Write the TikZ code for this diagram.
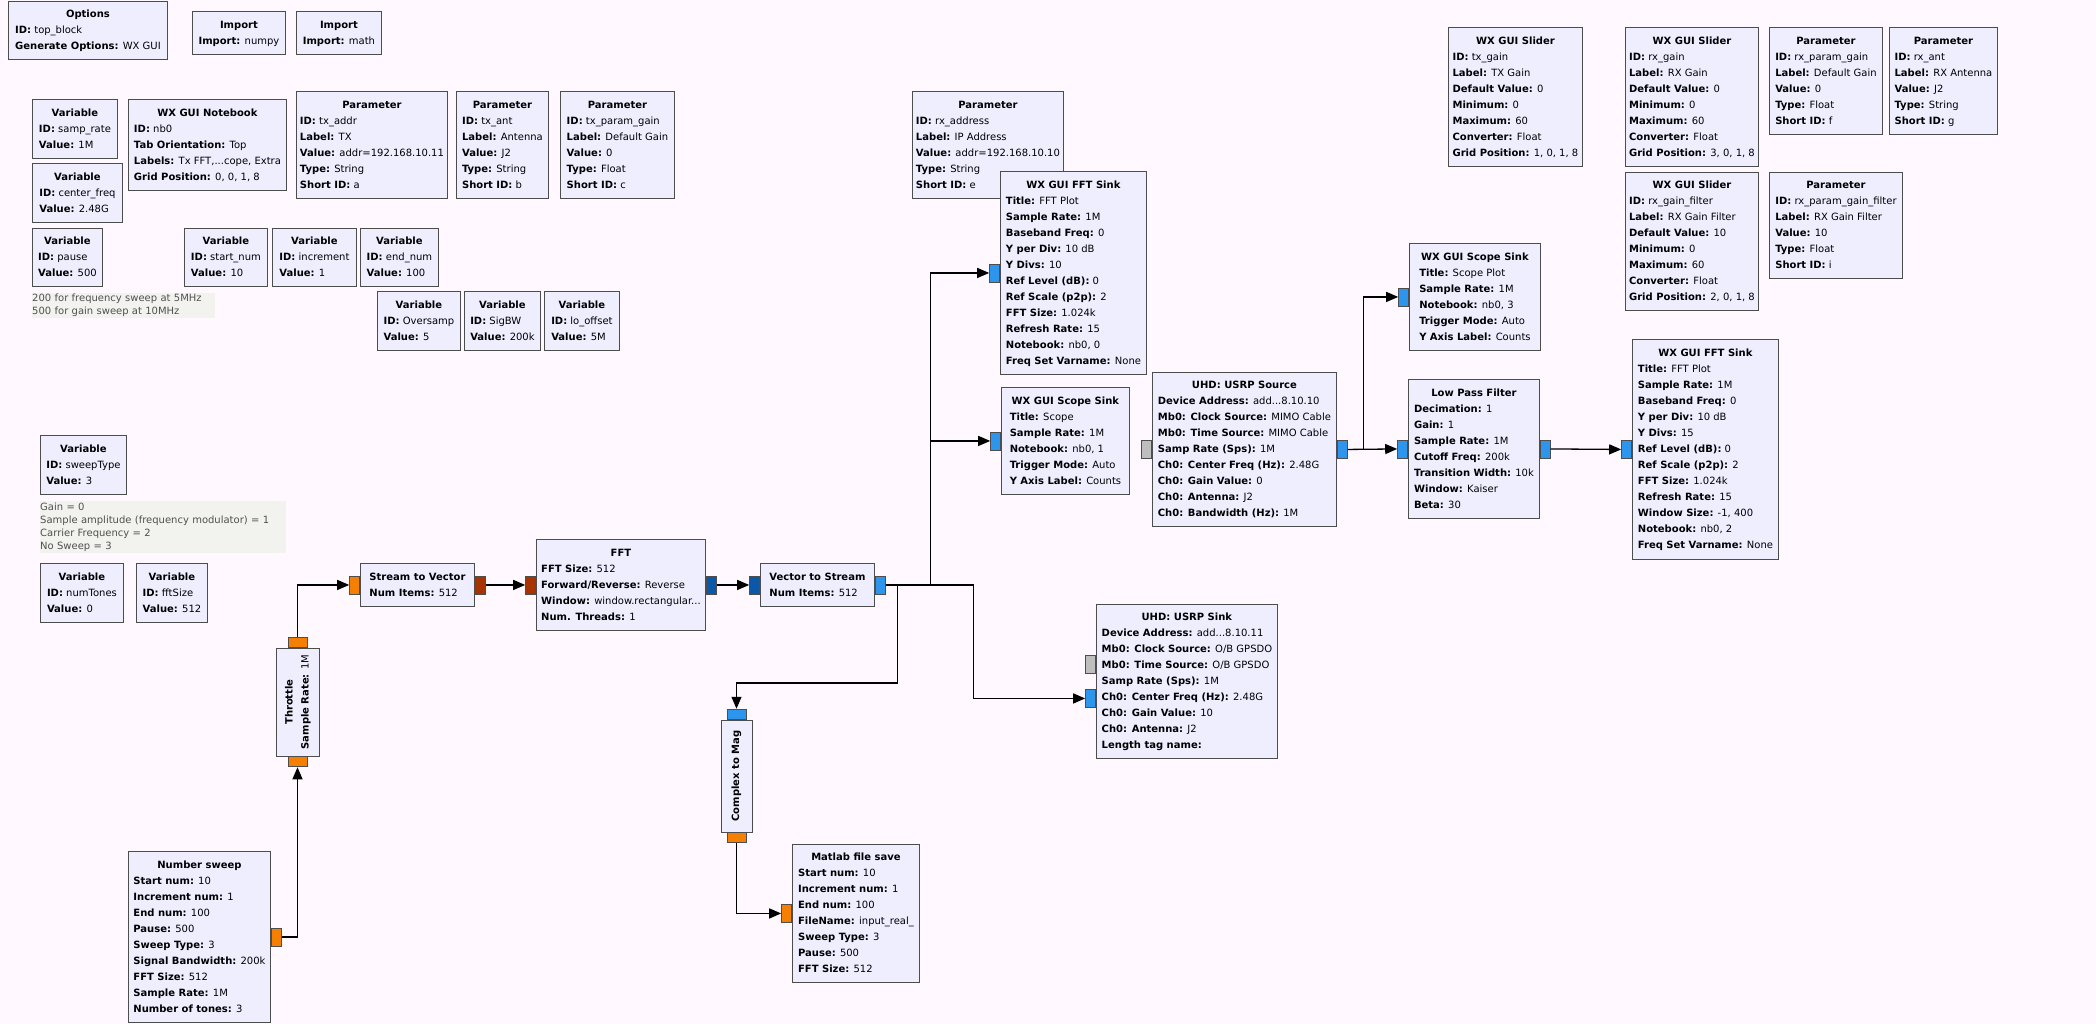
\documentclass[tikz,border=0pt]{standalone}
\usepackage{fontspec}
\setmainfont{DejaVu Sans}
\usepackage{tikz}
\usetikzlibrary{positioning,arrows.meta}

\definecolor{bgc}{HTML}{FFF9FF}
\definecolor{blkc}{HTML}{EFEEFF}
\definecolor{bordc}{HTML}{4D4D4D}
\definecolor{cmtc}{HTML}{F2F2EF}
\definecolor{cmtt}{HTML}{505050}
\definecolor{fltc}{HTML}{F57F00}
\definecolor{fvecc}{HTML}{A63300}
\definecolor{cplxc}{HTML}{2D96EC}
\definecolor{cvecc}{HTML}{0B57A8}
\definecolor{msgc}{HTML}{BEBEBE}

\newcommand{\grfont}{\fontsize{10}{16}\selectfont}
\newcommand{\cmtfont}{\fontsize{10}{13}\selectfont}
\newcommand{\gb}[1]{\begin{tabular}{@{}l@{}}#1\end{tabular}}
\newcommand{\ttl}[1]{\hfill\textbf{#1}\hfill\null}
\newcommand{\kv}[2]{\textbf{#1:} #2}

\begin{document}
\begin{tikzpicture}[
x=1pt, y=-1pt,
blk/.style={draw=bordc, fill=blkc, line width=0.9pt, anchor=north west, inner sep=0pt, font=\grfont},
wh/.style 2 args={minimum width=#1, minimum height=#2},
port/.style={draw=bordc, line width=0.8pt, minimum width=10, minimum height=18, inner sep=0pt},
vport/.style={port, minimum width=19, minimum height=10},
cmt/.style={fill=cmtc, anchor=north west, inner sep=0pt, align=left, font=\cmtfont, text=cmtt},
conn/.style={-{Triangle[length=12pt,width=10pt]}, line width=1.3pt}
]
\fill[bgc] (0,0) rectangle (2096,1024);

\node[blk, wh={159}{58}] (opts) at (8,1) {\gb{\ttl{Options}\\ \kv{ID}{top\_block}\\ \kv{Generate Options}{WX GUI}}};
\node[blk, wh={93}{43}] (impnp) at (192,11) {\gb{\ttl{Import}\\ \kv{Import}{numpy}}};
\node[blk, wh={85}{43}] (impmath) at (296,11) {\gb{\ttl{Import}\\ \kv{Import}{math}}};
\node[blk, wh={85}{59}] (sr) at (32,99) {\gb{\ttl{Variable}\\ \kv{ID}{samp\_rate}\\ \kv{Value}{1M}}};
\node[blk, wh={158}{91}] (nb) at (128,99) {\gb{\ttl{WX GUI Notebook}\\ \kv{ID}{nb0}\\ \kv{Tab Orientation}{Top}\\ \kv{Labels}{Tx FFT,...cope, Extra}\\ \kv{Grid Position}{0, 0, 1, 8}}};
\node[blk, wh={151}{107}] (txaddr) at (296,91) {\gb{\ttl{Parameter}\\ \kv{ID}{tx\_addr}\\ \kv{Label}{TX}\\ \kv{Value}{addr=192.168.10.11}\\ \kv{Type}{String}\\ \kv{Short ID}{a}}};
\node[blk, wh={92}{107}] (txant) at (456,91) {\gb{\ttl{Parameter}\\ \kv{ID}{tx\_ant}\\ \kv{Label}{Antenna}\\ \kv{Value}{J2}\\ \kv{Type}{String}\\ \kv{Short ID}{b}}};
\node[blk, wh={114}{107}] (txpg) at (560,91) {\gb{\ttl{Parameter}\\ \kv{ID}{tx\_param\_gain}\\ \kv{Label}{Default Gain}\\ \kv{Value}{0}\\ \kv{Type}{Float}\\ \kv{Short ID}{c}}};
\node[blk, wh={90}{59}] (cf) at (32,163) {\gb{\ttl{Variable}\\ \kv{ID}{center\_freq}\\ \kv{Value}{2.48G}}};
\node[blk, wh={70}{58}] (pause) at (32,228) {\gb{\ttl{Variable}\\ \kv{ID}{pause}\\ \kv{Value}{500}}};
\node[blk, wh={83}{58}] (startn) at (184,228) {\gb{\ttl{Variable}\\ \kv{ID}{start\_num}\\ \kv{Value}{10}}};
\node[blk, wh={84}{58}] (incr) at (272,228) {\gb{\ttl{Variable}\\ \kv{ID}{increment}\\ \kv{Value}{1}}};
\node[blk, wh={78}{58}] (endn) at (360,228) {\gb{\ttl{Variable}\\ \kv{ID}{end\_num}\\ \kv{Value}{100}}};
\node[blk, wh={83}{59}] (ovs) at (377,291) {\gb{\ttl{Variable}\\ \kv{ID}{Oversamp}\\ \kv{Value}{5}}};
\node[blk, wh={76}{59}] (sigbw) at (464,291) {\gb{\ttl{Variable}\\ \kv{ID}{SigBW}\\ \kv{Value}{200k}}};
\node[blk, wh={75}{59}] (lo) at (544,291) {\gb{\ttl{Variable}\\ \kv{ID}{lo\_offset}\\ \kv{Value}{5M}}};
\node[cmt, text width=183pt, minimum height=25] (cmtpause) at (32,293) {200 for frequency sweep at 5MHz\\500 for gain sweep at 10MHz};

\node[blk, wh={151}{107}] (rxaddr) at (912,91) {\gb{\ttl{Parameter}\\ \kv{ID}{rx\_address}\\ \kv{Label}{IP Address}\\ \kv{Value}{addr=192.168.10.10}\\ \kv{Type}{String}\\ \kv{Short ID}{e}}};
\node[blk, wh={146}{203}] (fft1) at (1000,171) {\gb{\ttl{WX GUI FFT Sink}\\ \kv{Title}{FFT Plot}\\ \kv{Sample Rate}{1M}\\ \kv{Baseband Freq}{0}\\ \kv{Y per Div}{10 dB}\\ \kv{Y Divs}{10}\\ \kv{Ref Level (dB)}{0}\\ \kv{Ref Scale (p2p)}{2}\\ \kv{FFT Size}{1.024k}\\ \kv{Refresh Rate}{15}\\ \kv{Notebook}{nb0, 0}\\ \kv{Freq Set Varname}{None}}};
\node[blk, wh={128}{107}] (scope1) at (1001,387) {\gb{\ttl{WX GUI Scope Sink}\\ \kv{Title}{Scope}\\ \kv{Sample Rate}{1M}\\ \kv{Notebook}{nb0, 1}\\ \kv{Trigger Mode}{Auto}\\ \kv{Y Axis Label}{Counts}}};
\node[blk, wh={184}{154}] (usrc) at (1152,372) {\gb{\ttl{UHD: USRP Source}\\ \kv{Device Address}{add...8.10.10}\\ \kv{Mb0: Clock Source}{MIMO Cable}\\ \kv{Mb0: Time Source}{MIMO Cable}\\ \kv{Samp Rate (Sps)}{1M}\\ \kv{Ch0: Center Freq (Hz)}{2.48G}\\ \kv{Ch0: Gain Value}{0}\\ \kv{Ch0: Antenna}{J2}\\ \kv{Ch0: Bandwidth (Hz)}{1M}}};
\node[blk, wh={131}{139}] (lpf) at (1408,379) {\gb{\ttl{Low Pass Filter}\\ \kv{Decimation}{1}\\ \kv{Gain}{1}\\ \kv{Sample Rate}{1M}\\ \kv{Cutoff Freq}{200k}\\ \kv{Transition Width}{10k}\\ \kv{Window}{Kaiser}\\ \kv{Beta}{30}}};
\node[blk, wh={131}{107}] (scope2) at (1409,243) {\gb{\ttl{WX GUI Scope Sink}\\ \kv{Title}{Scope Plot}\\ \kv{Sample Rate}{1M}\\ \kv{Notebook}{nb0, 3}\\ \kv{Trigger Mode}{Auto}\\ \kv{Y Axis Label}{Counts}}};
\node[blk, wh={146}{220}] (fft2) at (1632,339) {\gb{\ttl{WX GUI FFT Sink}\\ \kv{Title}{FFT Plot}\\ \kv{Sample Rate}{1M}\\ \kv{Baseband Freq}{0}\\ \kv{Y per Div}{10 dB}\\ \kv{Y Divs}{15}\\ \kv{Ref Level (dB)}{0}\\ \kv{Ref Scale (p2p)}{2}\\ \kv{FFT Size}{1.024k}\\ \kv{Refresh Rate}{15}\\ \kv{Window Size}{-1, 400}\\ \kv{Notebook}{nb0, 2}\\ \kv{Freq Set Varname}{None}}};

\node[blk, wh={134}{139}] (txg) at (1448,27) {\gb{\ttl{WX GUI Slider}\\ \kv{ID}{tx\_gain}\\ \kv{Label}{TX Gain}\\ \kv{Default Value}{0}\\ \kv{Minimum}{0}\\ \kv{Maximum}{60}\\ \kv{Converter}{Float}\\ \kv{Grid Position}{1, 0, 1, 8}}};
\node[blk, wh={133}{139}] (rxg) at (1625,27) {\gb{\ttl{WX GUI Slider}\\ \kv{ID}{rx\_gain}\\ \kv{Label}{RX Gain}\\ \kv{Default Value}{0}\\ \kv{Minimum}{0}\\ \kv{Maximum}{60}\\ \kv{Converter}{Float}\\ \kv{Grid Position}{3, 0, 1, 8}}};
\node[blk, wh={113}{107}] (rxpg) at (1769,27) {\gb{\ttl{Parameter}\\ \kv{ID}{rx\_param\_gain}\\ \kv{Label}{Default Gain}\\ \kv{Value}{0}\\ \kv{Type}{Float}\\ \kv{Short ID}{f}}};
\node[blk, wh={108}{107}] (rxant) at (1889,27) {\gb{\ttl{Parameter}\\ \kv{ID}{rx\_ant}\\ \kv{Label}{RX Antenna}\\ \kv{Value}{J2}\\ \kv{Type}{String}\\ \kv{Short ID}{g}}};
\node[blk, wh={133}{138}] (rxgf) at (1625,172) {\gb{\ttl{WX GUI Slider}\\ \kv{ID}{rx\_gain\_filter}\\ \kv{Label}{RX Gain Filter}\\ \kv{Default Value}{10}\\ \kv{Minimum}{0}\\ \kv{Maximum}{60}\\ \kv{Converter}{Float}\\ \kv{Grid Position}{2, 0, 1, 8}}};
\node[blk, wh={133}{106}] (rxpgf) at (1769,172) {\gb{\ttl{Parameter}\\ \kv{ID}{rx\_param\_gain\_filter}\\ \kv{Label}{RX Gain Filter}\\ \kv{Value}{10}\\ \kv{Type}{Float}\\ \kv{Short ID}{i}}};

\node[blk, wh={86}{59}] (swt) at (40,435) {\gb{\ttl{Variable}\\ \kv{ID}{sweepType}\\ \kv{Value}{3}}};
\node[cmt, text width=246pt, minimum height=52] (cmtswt) at (40,501) {Gain = 0\\Sample amplitude (frequency modulator) = 1\\Carrier Frequency = 2\\No Sweep = 3};
\node[blk, wh={83}{59}] (ntones) at (40,563) {\gb{\ttl{Variable}\\ \kv{ID}{numTones}\\ \kv{Value}{0}}};
\node[blk, wh={71}{59}] (fftsz) at (136,563) {\gb{\ttl{Variable}\\ \kv{ID}{fftSize}\\ \kv{Value}{512}}};

\node[blk, wh={114}{43}] (s2v) at (360,563) {\gb{\ttl{Stream to Vector}\\ \kv{Num Items}{512}}};
\node[blk, wh={169}{91}] (fft) at (536,539) {\gb{\ttl{FFT}\\ \kv{FFT Size}{512}\\ \kv{Forward/Reverse}{Reverse}\\ \kv{Window}{window.rectangular...}\\ \kv{Num. Threads}{1}}};
\node[blk, wh={114}{43}] (v2s) at (760,563) {\gb{\ttl{Vector to Stream}\\ \kv{Num Items}{512}}};
\node[blk, anchor=center, rotate=90, wh={108}{43}] (thr) at (297.5,702) {\gb{\ttl{Throttle}\\ \kv{Sample Rate}{1M}}};
\node[blk, wh={181}{154}] (usink) at (1096,604) {\gb{\ttl{UHD: USRP Sink}\\ \kv{Device Address}{add...8.10.11}\\ \kv{Mb0: Clock Source}{O/B GPSDO}\\ \kv{Mb0: Time Source}{O/B GPSDO}\\ \kv{Samp Rate (Sps)}{1M}\\ \kv{Ch0: Center Freq (Hz)}{2.48G}\\ \kv{Ch0: Gain Value}{10}\\ \kv{Ch0: Antenna}{J2}\\ \kv{Length tag name}{}}};
\node[blk, anchor=center, rotate=90, wh={112}{31}] (c2m) at (736.5,776) {\textbf{Complex to Mag}};
\node[blk, wh={127}{138}] (mat) at (792,844) {\gb{\ttl{Matlab file save}\\ \kv{Start num}{10}\\ \kv{Increment num}{1}\\ \kv{End num}{100}\\ \kv{FileName}{input\_real\_}\\ \kv{Sweep Type}{3}\\ \kv{Pause}{500}\\ \kv{FFT Size}{512}}};
\node[blk, wh={142}{171}] (nsw) at (128,851) {\gb{\ttl{Number sweep}\\ \kv{Start num}{10}\\ \kv{Increment num}{1}\\ \kv{End num}{100}\\ \kv{Pause}{500}\\ \kv{Sweep Type}{3}\\ \kv{Signal Bandwidth}{200k}\\ \kv{FFT Size}{512}\\ \kv{Sample Rate}{1M}\\ \kv{Number of tones}{3}}};

\node[port, fill=fltc, right=0pt of nsw] (nswout) {};
\node[vport, fill=fltc, below=0pt of thr.west] (thrin) {};
\node[vport, fill=fltc, above=0pt of thr.east] (throut) {};
\node[port, fill=fltc, left=0pt of s2v] (s2vin) {};
\node[port, fill=fvecc, right=0pt of s2v] (s2vout) {};
\node[port, fill=fvecc, left=0pt of fft] (fftin) {};
\node[port, fill=cvecc, right=0pt of fft] (fftout) {};
\node[port, fill=cvecc, left=0pt of v2s] (v2sin) {};
\node[port, fill=cplxc, right=0pt of v2s] (v2sout) {};
\node[port, fill=cplxc, left=0pt of fft1] (fft1in) {};
\node[port, fill=cplxc, left=0pt of scope1] (scope1in) {};
\node[port, fill=msgc, left=0pt of usink, yshift=17pt] (usinkcmd) {};
\node[port, fill=cplxc, left=0pt of usink, yshift=-17pt] (usinkin) {};
\node[vport, fill=cplxc, above=0pt of c2m.east] (c2min) {};
\node[vport, fill=fltc, below=0pt of c2m.west] (c2mout) {};
\node[port, fill=fltc, left=0pt of mat] (matin) {};
\node[port, fill=msgc, left=0pt of usrc] (usrccmd) {};
\node[port, fill=cplxc, right=0pt of usrc] (usrcout) {};
\node[port, fill=cplxc, left=0pt of lpf] (lpfin) {};
\node[port, fill=cplxc, right=0pt of lpf] (lpfout) {};
\node[port, fill=cplxc, left=0pt of scope2] (scope2in) {};
\node[port, fill=cplxc, left=0pt of fft2] (fft2in) {};

\draw[conn] (nswout.east) -| (thrin.south);
\draw[conn] (throut.north) |- (s2vin.west);
\draw[conn] (s2vout.east) -- (fftin.west);
\draw[conn] (fftout.east) -- (v2sin.west);
\draw[conn] (v2sout.east) -- ++(45,0) |- (fft1in.west);
\draw[conn] (v2sout.east) -- ++(45,0) |- (scope1in.west);
\draw[conn] (v2sout.east) -- ++(88,0) |- (usinkin.west);
\draw[conn] (v2sout.east) -- ++(12,0) -- ++(0,98) -| (c2min.north);
\draw[conn] (c2mout.south) |- (matin.west);
\draw[conn] (usrcout.east) -- (lpfin.west);
\draw[conn] (usrcout.east) -- ++(16,0) |- (scope2in.west);
\draw[conn] (lpfout.east) -- (fft2in.west);
\end{tikzpicture}
\end{document}
